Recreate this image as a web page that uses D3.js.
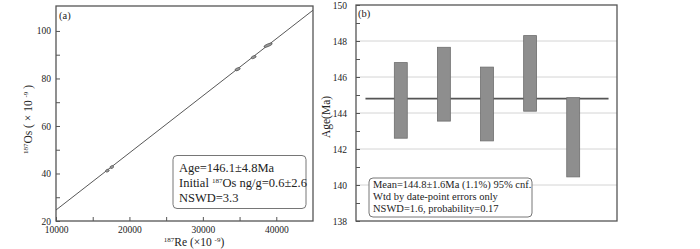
<!DOCTYPE html>
<html>
<head>
<meta charset="utf-8">
<script src="https://cdn.jsdelivr.net/npm/d3@7"></script>
<style>
  body { margin: 0; background: #fff; }
  svg { display: block; font-family: "Liberation Serif", "Times New Roman", serif; }
  .axis text { font-size: 9.5px; fill: #222; }
  .axis path.domain { display: none; }
  .axis line { stroke: #555; }
</style>
</head>
<body>
<div id="chart"></div>
<script>
// ---------- DATA ----------
// (a) isochron points: 187Re, 187Os, Re error
const reValues = [17000, 17600, 34730, 36920, 38880];
const osValues = [41.2, 42.7, 83.9, 89.0, 94.0];
const reErrors = [200, 200, 300, 280, 480];
const isoIntercept = 0.6;
const isoSlope = 0.002403;
const xTicksA = [10000, 20000, 30000, 40000];
const xMinorA = [15000, 25000, 35000];
const yTicksA = [20, 40, 60, 80, 100];
const yMinorA = [30, 50, 70, 90];
const legendA = ["Age=146.1±4.8Ma", "Initial |187|Os ng/g=0.6±2.6", "NSWD=3.3"];

// (b) weighted mean ages
const sampleIdx = [1, 2, 3, 4, 5];
const ages = [144.7, 145.6, 144.5, 146.2, 142.65];
const ageErrors = [2.1, 2.05, 2.05, 2.1, 2.2];
const meanAge = 144.8;
const yTicksB = [138, 140, 142, 144, 146, 148, 150];
const yMinorB = [139, 141, 143, 145, 147, 149];
const gridB = [140, 142, 144, 146, 148];
const legendB = ["Mean=144.8±1.6Ma (1.1%) 95% cnf.", "Wtd by date-point errors only", "NSWD=1.6, probability=0.17"];

const SERIF = "Liberation Serif, Times New Roman, serif";
const W = 700, H = 249;
const svg = d3.select("#chart").append("svg")
  .attr("width", W).attr("height", H);

// helper for text with |superscript| pieces
function richText(sel, str, size, supSize) {
  const parts = str.split("|");
  parts.forEach((p, i) => {
    if (!p) return;
    const isSup = i % 2 === 1;
    sel.append("tspan")
      .attr("font-size", isSup ? supSize : size)
      .attr("baseline-shift", isSup ? "super" : null)
      .text(p);
  });
}

// -------------------- PANEL A --------------------
const A = { left: 56, right: 313, top: 6, bottom: 221 };
const xA = d3.scaleLinear().domain([10000, 45000]).range([A.left, A.right]);
const yA = d3.scaleLinear().domain([20, 110.5]).range([A.bottom, A.top]);

const gA = svg.append("g");
gA.append("clipPath").attr("id", "clipA").append("rect")
  .attr("x", A.left).attr("y", A.top)
  .attr("width", A.right - A.left).attr("height", A.bottom - A.top);

// isochron line
gA.append("line")
  .attr("clip-path", "url(#clipA)")
  .attr("x1", xA(10000)).attr("y1", yA(isoIntercept + isoSlope * 10000))
  .attr("x2", xA(45000)).attr("y2", yA(isoIntercept + isoSlope * 45000))
  .attr("stroke", "#444").attr("stroke-width", 0.9);

// error ellipses along the line
const angle = Math.atan2(yA(0) - yA(isoSlope * 10000), xA(20000) - xA(10000)) * 180 / Math.PI;
gA.selectAll(".pt").data(reValues.map((v, i) => ({ x: v, y: osValues[i], e: reErrors[i] })))
  .join("ellipse")
  .attr("class", "pt")
  .attr("transform", d => `translate(${xA(d.x)},${yA(d.y)}) rotate(${-angle * 0.6})`)
  .attr("rx", d => (xA(d.x + d.e) - xA(d.x)) / Math.cos(angle * Math.PI / 180))
  .attr("ry", 1.3)
  .attr("fill", "#999").attr("stroke", "#555").attr("stroke-width", 0.7);

// axes (ticks inward)
function styleAxis(g) {
  g.attr("font-family", SERIF).attr("font-size", 9.5);
}
gA.append("g").attr("class", "axis")
  .attr("transform", `translate(0,${A.bottom})`)
  .call(d3.axisBottom(xA).tickValues(xTicksA).tickSize(-4).tickPadding(5).tickFormat(d3.format("d")))
  .call(styleAxis);
gA.append("g").attr("class", "axis")
  .attr("transform", `translate(0,${A.bottom})`)
  .call(d3.axisBottom(xA).tickValues(xMinorA).tickSize(-4).tickFormat(""));
gA.append("g").attr("class", "axis")
  .attr("transform", `translate(${A.left},0)`)
  .call(d3.axisLeft(yA).tickValues(yTicksA).tickSize(-4).tickPadding(5))
  .call(styleAxis);
gA.append("g").attr("class", "axis")
  .attr("transform", `translate(${A.left},0)`)
  .call(d3.axisLeft(yA).tickValues(yMinorA).tickSize(-4).tickFormat(""));

gA.append("rect")
  .attr("x", A.left).attr("y", A.top)
  .attr("width", A.right - A.left).attr("height", A.bottom - A.top)
  .attr("fill", "none").attr("stroke", "#555").attr("stroke-width", 1.3);

gA.append("text").attr("x", A.left + 3).attr("y", A.top + 13)
  .attr("font-size", 10.5).attr("fill", "#222").text("(a)");

// legend (a)
gA.append("rect")
  .attr("x", 173).attr("y", 155.5).attr("width", 133).attr("height", 53)
  .attr("rx", 4).attr("fill", "#fff").attr("stroke", "#666").attr("stroke-width", 0.9);
legendA.forEach((s, i) => {
  const t = gA.append("text").attr("x", 179).attr("y", 172 + i * 15)
    .attr("fill", "#222");
  richText(t, s, "12.5px", "7px");
});

// axis titles
{
  const t = gA.append("text")
    .attr("transform", `translate(32,${(A.top + A.bottom) / 2 + 6}) rotate(-90)`)
    .attr("text-anchor", "middle").attr("fill", "#222");
  richText(t, "|187|Os ( × 10 |-9| )", "11.5px", "7px");
  const u = gA.append("text")
    .attr("x", 194).attr("y", 245.5)
    .attr("text-anchor", "middle").attr("fill", "#222");
  richText(u, "|187|Re (×10 |-9|)", "11.5px", "7px");
}

// -------------------- PANEL B --------------------
const B = { left: 356, right: 617, top: 5, bottom: 221 };
const xB = d3.scaleLinear().domain([0, 6]).range([357.7, 616.3]);
const yB = d3.scaleLinear().domain([138, 150]).range([B.bottom, B.top]);
const gB = svg.append("g");

gB.selectAll(".grid").data(gridB).join("line")
  .attr("x1", B.left).attr("x2", B.right)
  .attr("y1", d => yB(d)).attr("y2", d => yB(d))
  .attr("stroke", "#d4d4d4").attr("stroke-width", 1);

gB.append("line")
  .attr("x1", xB(0.18)).attr("x2", xB(5.82))
  .attr("y1", yB(meanAge)).attr("y2", yB(meanAge))
  .attr("stroke", "#555").attr("stroke-width", 1.8);

gB.selectAll(".bar").data(sampleIdx.map((s, i) => ({ s, age: ages[i], err: ageErrors[i] })))
  .join("rect")
  .attr("class", "bar")
  .attr("x", d => xB(d.s - 0.15))
  .attr("width", d => xB(d.s + 0.15) - xB(d.s - 0.15))
  .attr("y", d => yB(d.age + d.err))
  .attr("height", d => yB(d.age - d.err) - yB(d.age + d.err))
  .attr("fill", "#8e8e8e").attr("stroke", "#6e6e6e").attr("stroke-width", 0.8);

gB.append("g").attr("class", "axis")
  .attr("transform", `translate(${B.left},0)`)
  .call(d3.axisLeft(yB).tickValues(yTicksB).tickSize(-4).tickPadding(9))
  .call(styleAxis);
gB.append("g").attr("class", "axis")
  .attr("transform", `translate(${B.left},0)`)
  .call(d3.axisLeft(yB).tickValues(yMinorB).tickSize(-4).tickFormat(""));

gB.append("rect")
  .attr("x", B.left).attr("y", B.top)
  .attr("width", B.right - B.left).attr("height", B.bottom - B.top)
  .attr("fill", "none").attr("stroke", "#555").attr("stroke-width", 1.3);

gB.append("text").attr("x", B.left + 2).attr("y", B.top + 12)
  .attr("font-size", 10.5).attr("fill", "#222").text("(b)");

gB.append("text")
  .attr("transform", `translate(330,${yB(144) + 4}) rotate(-90)`)
  .attr("text-anchor", "middle").attr("font-size", "11.5px").attr("fill", "#222")
  .text("Age(Ma)");

// legend (b)
gB.append("rect")
  .attr("x", 369).attr("y", 178).attr("width", 163).attr("height", 39)
  .attr("rx", 4).attr("fill", "#fff").attr("stroke", "#666").attr("stroke-width", 0.9);
legendB.forEach((s, i) => {
  gB.append("text").attr("x", 373).attr("y", 187.5 + i * 12.3)
    .attr("font-size", "10.5px").attr("fill", "#222").text(s);
});
</script>
</body>
</html>
